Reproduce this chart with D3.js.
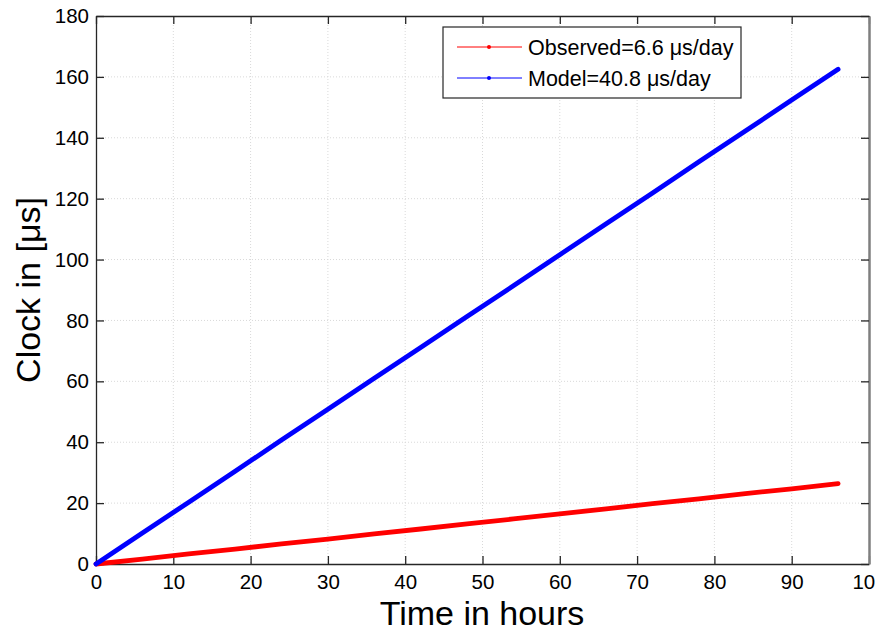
<!DOCTYPE html>
<html>
<head>
<meta charset="utf-8">
<script src="https://cdn.jsdelivr.net/npm/d3@7"></script>
<style>
  html, body { margin: 0; padding: 0; background: #fff; }
  svg { display: block; font-family: "Liberation Sans", Arial, sans-serif; }
</style>
</head>
<body>
<svg id="chart" width="875" height="631"></svg>
<script>
// Clock drift over four days: observed vs. model
const hours = [0, 6, 12, 18, 24, 30, 36, 42, 48, 54, 60, 66, 72, 78, 84, 90, 96];
const observed = [0, 1.6, 3.3, 4.9, 6.6, 8.2, 9.9, 11.5, 13.2, 14.8, 16.5, 18.1, 19.8, 21.4, 23.1, 24.7, 26.4];
const model = [0, 10.2, 20.3, 30.5, 40.7, 50.8, 61.0, 71.1, 81.3, 91.4, 101.6, 111.8, 121.9, 132.1, 142.2, 152.4, 162.5];
const xTicks = [0, 10, 20, 30, 40, 50, 60, 70, 80, 90, 100];
const yTicks = [0, 20, 40, 60, 80, 100, 120, 140, 160, 180];
const seriesNames = ["Observed=6.6 \u03bcs/day", "Model=40.8 \u03bcs/day"];
const seriesColors = ["#ff0000", "#0000ff"];

const svg = d3.select("#chart");
const m = { left: 96, right: 869, top: 16, bottom: 564 };

const x = d3.scaleLinear().domain([0, 100]).range([m.left, m.right]);
const y = d3.scaleLinear().domain([0, 180]).range([m.bottom, m.top]);

// dotted grid
const grid = svg.append("g");
grid.selectAll("line.gx").data(xTicks.slice(1, -1)).join("line")
  .attr("x1", d => x(d)).attr("x2", d => x(d))
  .attr("y1", m.top).attr("y2", m.bottom)
  .attr("stroke", "#d9d9d9").attr("stroke-width", 1).attr("stroke-dasharray", "1,2");
grid.selectAll("line.gy").data(yTicks.slice(1, -1)).join("line")
  .attr("y1", d => y(d)).attr("y2", d => y(d))
  .attr("x1", m.left).attr("x2", m.right)
  .attr("stroke", "#d9d9d9").attr("stroke-width", 1).attr("stroke-dasharray", "1,2");

// axes with inward ticks on all four sides
const axisColor = "#262626";
const tickLen = 8;
const bottomAxis = svg.append("g").attr("transform", `translate(0,${m.bottom})`)
  .call(d3.axisBottom(x).tickValues(xTicks).tickSizeInner(-tickLen).tickSizeOuter(0).tickPadding(10));
const leftAxis = svg.append("g").attr("transform", `translate(${m.left},0)`)
  .call(d3.axisLeft(y).tickValues(yTicks).tickSizeInner(-tickLen).tickSizeOuter(0).tickPadding(7));
const topAxis = svg.append("g").attr("transform", `translate(0,${m.top})`)
  .call(d3.axisTop(x).tickValues(xTicks).tickSizeInner(-tickLen).tickSizeOuter(0).tickFormat(""));
const rightAxis = svg.append("g").attr("transform", `translate(${m.right},0)`)
  .call(d3.axisRight(y).tickValues(yTicks).tickSizeInner(-tickLen).tickSizeOuter(0).tickFormat(""));

[bottomAxis, leftAxis, topAxis, rightAxis].forEach(a => {
  a.select(".domain").attr("stroke", axisColor).attr("stroke-width", 1.3);
  a.selectAll(".tick line").attr("stroke", axisColor).attr("stroke-width", 1.3);
  a.selectAll(".tick text").attr("fill", "#000").attr("font-size", 20.5)
    .attr("font-family", "'Liberation Sans', Arial, sans-serif");
});
rightAxis.select(".domain").attr("stroke", "#7f7f7f").attr("stroke-width", 2.5);

// series lines
const line = d3.line().x((d, i) => x(hours[i])).y(d => y(d));
[observed, model].forEach((vals, k) => {
  svg.append("path").datum(vals)
    .attr("d", line)
    .attr("fill", "none")
    .attr("stroke", seriesColors[k])
    .attr("stroke-width", 4.8)
    .attr("stroke-linecap", "round")
    .attr("stroke-linejoin", "round");
});

// axis titles
svg.append("text")
  .attr("x", 482).attr("y", 625)
  .attr("text-anchor", "middle").attr("font-size", 34)
  .text("Time in hours");
svg.append("text")
  .attr("transform", `translate(40,${(m.top + m.bottom) / 2}) rotate(-90)`)
  .attr("text-anchor", "middle").attr("font-size", 34)
  .text("Clock in [\u03bcs]");

// legend
const lg = svg.append("g");
lg.append("rect").attr("x", 443).attr("y", 27).attr("width", 298).attr("height", 71)
  .attr("fill", "#fff").attr("stroke", axisColor).attr("stroke-width", 1.2);
seriesNames.forEach((name, k) => {
  const ly = 47 + k * 31;
  lg.append("line").attr("x1", 457).attr("x2", 522).attr("y1", ly).attr("y2", ly)
    .attr("stroke", seriesColors[k]).attr("stroke-width", 1);
  lg.append("circle").attr("cx", 489).attr("cy", ly).attr("r", 2)
    .attr("fill", seriesColors[k]);
  lg.append("text").attr("x", 528).attr("y", ly + 7.5).attr("font-size", 21.5).text(name);
});
</script>
</body>
</html>
